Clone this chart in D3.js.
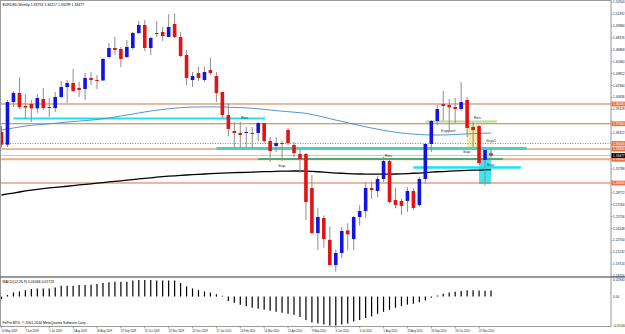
<!DOCTYPE html>
<html>
<head>
<meta charset="utf-8">
<script src="https://cdn.jsdelivr.net/npm/d3@7"></script>
<style>
body { margin: 0; background: #fff; }
text { font-family: "Liberation Sans", Arial, sans-serif; }
</style>
</head>
<body>
<script>
// weekly EURUSD bars, week of 10 May 2009 = bar 0
const opens = [1.3646,1.3485,1.4025,1.4140,1.3975,1.4000,1.3945,1.4063,1.3962,1.3949,
1.4089,1.4215,1.4266,1.4203,1.4190,1.4329,1.4304,1.4298,1.4595,1.4709,
1.4696,1.4595,1.4709,1.4899,1.5000,1.4709,1.4899,1.4912,1.4848,1.5013,
1.4848,1.4620,1.4304,1.4392,1.4304,1.4430,1.4354,1.4152,1.3861,1.3658,
1.3633,1.3633,1.3633,1.3633,1.3759,1.3532,1.3468,1.3506,1.3671,1.3481,
1.3367,1.3367,1.2937,1.2367,1.2557,1.2280,1.1962,1.2114,1.2400,1.2290,
1.2569,1.2645,1.2937,1.2899,1.3051,1.3278,1.2785,1.2772,1.2773,1.2899,
1.2720,1.3051,1.3494,1.3785,1.4000,1.3987,1.3962,1.3937,1.4051,1.3709,
1.3721,1.3291,1.33753];
const highs = [1.3720,1.4051,1.4165,1.4338,1.4127,1.4051,1.4127,1.4203,1.4076,1.4152,
1.4291,1.4304,1.4443,1.4279,1.4392,1.4405,1.4367,1.4582,1.4772,1.4848,
1.4722,1.4810,1.4912,1.5051,1.5063,1.4848,1.5051,1.4975,1.5139,1.5145,
1.4912,1.4684,1.4405,1.4468,1.4468,1.4582,1.4405,1.4152,1.4013,1.3772,
1.3772,1.3709,1.3709,1.3772,1.3759,1.3582,1.3582,1.3532,1.3696,1.3519,
1.3418,1.3380,1.3101,1.2683,1.2590,1.2450,1.2160,1.2443,1.2490,1.2580,
1.2720,1.3013,1.3020,1.3090,1.3333,1.3290,1.2937,1.2800,1.2950,1.2930,
1.3076,1.3506,1.3797,1.3990,1.4165,1.4063,1.4076,1.4279,1.4089,1.3772,
1.3734,1.3418,1.34217];
const lows = [1.3450,1.3456,1.3960,1.3935,1.3810,1.3772,1.3886,1.3924,1.3835,1.3899,
1.4076,1.4013,1.4152,1.4089,1.4051,1.4241,1.4190,1.4291,1.4582,1.4620,
1.4468,1.4582,1.4684,1.4886,1.4671,1.4620,1.4848,1.4798,1.4848,1.4836,
1.4595,1.4241,1.4215,1.4291,1.4279,1.4367,1.4025,1.3823,1.3595,1.3456,
1.3443,1.3456,1.3443,1.3532,1.3506,1.3266,1.3392,1.3278,1.3481,1.3329,
1.3126,1.2531,1.2350,1.2152,1.2180,1.1960,1.1876,1.2050,1.2150,1.2150,
1.2460,1.2560,1.2800,1.2820,1.3010,1.2740,1.2680,1.2595,1.2633,1.2658,
1.2700,1.2990,1.3392,1.3734,1.3785,1.3671,1.3759,1.3911,1.3582,1.3456,
1.3228,1.2969,1.33299];
const closes = [1.3485,1.4025,1.4140,1.3962,1.3955,1.3945,1.4076,1.3949,1.3949,1.4089,
1.4215,1.4266,1.4165,1.4177,1.4329,1.4304,1.4298,1.4570,1.4709,1.4684,
1.4570,1.4722,1.4899,1.5000,1.4709,1.4836,1.4893,1.4861,1.4975,1.4848,
1.4608,1.4329,1.4354,1.4329,1.4405,1.4392,1.4139,1.3861,1.3684,1.3633,
1.3608,1.3646,1.3625,1.3759,1.3532,1.3405,1.3506,1.3500,1.3506,1.3380,
1.3304,1.2759,1.2367,1.2569,1.2291,1.1962,1.2114,1.2392,1.2350,1.2569,
1.2645,1.2937,1.2910,1.3051,1.3278,1.2759,1.2721,1.2710,1.2899,1.2683,
1.3051,1.3494,1.3785,1.3937,1.3975,1.3958,1.3937,1.4025,1.3696,1.3671,
1.3253,1.3418,1.33477];

// moving averages
const maBlue = [1.3671,1.3684,1.3696,1.3709,1.3721,1.3730,1.3737,1.3743,1.3749,1.3757,
1.3765,1.3771,1.3777,1.3784,1.3790,1.3796,1.3804,1.3813,1.3823,1.3835,
1.3848,1.3861,1.3873,1.3886,1.3899,1.3911,1.3922,1.3930,1.3939,1.3947,
1.3953,1.3958,1.3961,1.3962,1.3963,1.3963,1.3963,1.3962,1.3959,1.3957,
1.3954,1.3951,1.3946,1.3939,1.3932,1.3924,1.3916,1.3909,1.3903,1.3896,
1.3890,1.3881,1.3867,1.3851,1.3833,1.3815,1.3797,1.3780,1.3762,1.3744,
1.3728,1.3711,1.3696,1.3681,1.3667,1.3654,1.3643,1.3633,1.3625,1.3619,
1.3614,1.3610,1.3608,1.3608,1.3608,1.3610,1.3614,1.3618,1.3621,1.3625,
1.3628,1.3630,1.3633];
const maBlack = [1.2848,1.2861,1.2873,1.2886,1.2899,1.2911,1.2920,1.2929,1.2937,1.2944,
1.2952,1.2959,1.2967,1.2975,1.2982,1.2990,1.2997,1.3005,1.3013,1.3020,
1.3028,1.3035,1.3043,1.3051,1.3058,1.3066,1.3073,1.3080,1.3086,1.3091,
1.3096,1.3101,1.3106,1.3110,1.3114,1.3118,1.3121,1.3125,1.3128,1.3130,
1.3133,1.3135,1.3138,1.3140,1.3143,1.3145,1.3148,1.3149,1.3151,1.3152,
1.3152,1.3151,1.3147,1.3142,1.3137,1.3132,1.3126,1.3123,1.3119,1.3116,
1.3114,1.3112,1.3111,1.3111,1.3111,1.3112,1.3114,1.3116,1.3119,1.3123,
1.3126,1.3132,1.3137,1.3142,1.3145,1.3149,1.3153,1.3157,1.3159,1.3162,
1.3164,1.3167,1.3169];

// MACD(12,26,9) main values
const macd = [-0.0045,0.0027,0.0072,0.0090,0.0114,0.0132,0.0144,0.0144,0.0144,0.0162,
0.0193,0.0193,0.0193,0.0204,0.0204,0.0211,0.0222,0.0240,0.0253,0.0265,
0.0265,0.0265,0.0283,0.0294,0.0294,0.0294,0.0283,0.0283,0.0283,0.0283,
0.0240,0.0181,0.0144,0.0114,0.0090,0.0072,0.0042,0.0013,-0.0081,-0.0108,
-0.0144,-0.0171,-0.0199,-0.0217,-0.0235,-0.0253,-0.0271,-0.0289,-0.0307,-0.0325,
-0.0361,-0.0415,-0.0460,-0.0478,-0.0496,-0.0514,-0.0514,-0.0496,-0.0478,-0.0442,
-0.0415,-0.0379,-0.0352,-0.0307,-0.0271,-0.0235,-0.0199,-0.0171,-0.0144,-0.0126,
-0.0099,-0.0072,-0.0020,0.0020,0.0050,0.0070,0.0085,0.0100,0.0110,0.0112,
0.0108,0.0105,0.0107];

// date labels, one every 4 bars
const dateLabels = ["10 May 2009","7 Jun 2009","5 Jul 2009","2 Aug 2009","30 Aug 2009","27 Sep 2009",
"25 Oct 2009","22 Nov 2009","20 Dec 2009","17 Jan 2010","14 Feb 2010","14 Mar 2010","11 Apr 2010",
"9 May 2010","6 Jun 2010","4 Jul 2010","1 Aug 2010","29 Aug 2010","26 Sep 2010","24 Oct 2010","21 Nov 2010"];

const priceTicks = [1.52900,1.51392,1.49884,1.48376,1.46868,1.45360,1.43852,1.42344,1.40836,1.39328,
1.37820,1.36312,1.34804,1.33296,1.31788,1.30280,1.28772,1.27264,1.25756,1.24248,1.22740,1.21232,1.19724,1.18216];
const macdTicks = [0.02940, 0, -0.05140];

// horizontal lines and the current bid
const levels = [1.4000, 1.3750, 1.3500, 1.3430, 1.3300, 1.3000];
const bid = 1.33477;

// drawn support / resistance objects
const segments = [
    { from: 2, to: 44, price: 1.3816 },
    { from: 36, to: 88, price: 1.3437 },
    { from: 43, to: 84, price: 1.3304 },
    { from: 69, to: 87, price: 1.3196 },
    { from: 71, to: 83, price: 1.3778 }
];
const boxes = [
    { from: 78, to: 79.7, top: 1.3734, bottom: 1.3443 },
    { from: 80.7, to: 82.2, top: 1.3456, bottom: 1.3291 },
    { from: 80, to: 82, top: 1.3291, bottom: 1.2987 }
];
const notes = [
    { text: "Res", bar: 40.1, price: 1.3810 },
    { text: "Sup", bar: 46.3, price: 1.3206 },
    { text: "Res", bar: 64.2, price: 1.3333 },
    { text: "Support", bar: 73.6, price: 1.3642 },
    { text: "Res", bar: 79.1, price: 1.3806 },
    { text: "Sup", bar: 77.3, price: 1.3383 },
    { text: "Sup1", bar: 81.2, price: 1.3515 },
    { text: "Sup", bar: 81.3, price: 1.3220 }
];

const W = 625, H = 334;
const plotRight = 611;
const mainBottom = 276;

const svg = d3.select("body").append("svg")
    .attr("width", W)
    .attr("height", H);

const x = d3.scaleLinear().domain([0, 82]).range([1.5, 491]);
const y = d3.scaleLinear().domain([1.18225, 1.53166]).range([mainBottom, 0]);
const ym = d3.scaleLinear().domain([-0.0514, 0.0294]).range([325.5, 280]);

const bars = d3.range(opens.length);

const main = svg.append("g");

// boxes (behind)
const boxColors = ["#f4eba6", "#aef0f2", "#3fe6f0"];
main.selectAll("rect.box")
    .data(boxes)
    .enter()
    .append("rect")
    .attr("x", d => x(d.from))
    .attr("width", d => x(d.to) - x(d.from))
    .attr("y", d => y(d.top))
    .attr("height", d => y(d.bottom) - y(d.top))
    .attr("fill", (d, i) => boxColors[i]);

// horizontal levels
main.selectAll("line.level")
    .data(levels)
    .enter()
    .append("line")
    .attr("x1", 0).attr("x2", plotRight)
    .attr("y1", d => y(d)).attr("y2", d => y(d))
    .attr("stroke", d => d === 1.33 ? "#f3aa80" : "#c9764b")
    .attr("stroke-width", d => d === 1.33 ? 2 : 1)
    .attr("stroke-dasharray", d => d === 1.35 ? "1,1.5" : null);

main.append("line")
    .attr("x1", 0).attr("x2", plotRight)
    .attr("y1", y(bid)).attr("y2", y(bid))
    .attr("stroke", "#c8c8c8")
    .attr("stroke-width", 1);

// support/resistance segments
const segColors = ["#22dff0", "#4ccfc0", "#4fa877", "#22dff0", "#b8e08e"];
const segWidths = [2, 3, 2, 2.5, 2];
main.selectAll("line.seg")
    .data(segments)
    .enter()
    .append("line")
    .attr("x1", d => x(d.from)).attr("x2", d => x(d.to))
    .attr("y1", d => y(d.price)).attr("y2", d => y(d.price))
    .attr("stroke", (d, i) => segColors[i])
    .attr("stroke-width", (d, i) => segWidths[i]);

// small end tick on the first resistance line
main.append("line")
    .attr("x1", x(segments[0].to)).attr("x2", x(segments[0].to))
    .attr("y1", y(segments[0].price) - 2).attr("y2", y(segments[0].price) + 2)
    .attr("stroke", segColors[0]);

// moving averages
const line = d3.line().x((d, i) => x(i)).y(d => y(d));
main.append("path")
    .attr("d", line(maBlue))
    .attr("fill", "none")
    .attr("stroke", "#4f97d0")
    .attr("stroke-width", 1);
main.append("path")
    .attr("d", line(maBlack))
    .attr("fill", "none")
    .attr("stroke", "#000")
    .attr("stroke-width", 1.3);

// candles
main.selectAll("line.wick")
    .data(bars)
    .enter()
    .append("line")
    .attr("x1", i => x(i)).attr("x2", i => x(i))
    .attr("y1", i => y(highs[i])).attr("y2", i => y(lows[i]))
    .attr("stroke", "#8e8e8e")
    .attr("stroke-width", 1);

main.selectAll("rect.body")
    .data(bars)
    .enter()
    .append("rect")
    .attr("x", i => x(i) - 1.8)
    .attr("width", 3.6)
    .attr("y", i => y(Math.max(opens[i], closes[i])))
    .attr("height", i => Math.max(1, Math.abs(y(opens[i]) - y(closes[i]))))
    .attr("fill", i => closes[i] >= opens[i] ? "#1414e0" : "#e01414");

// annotation texts
main.selectAll("text.note")
    .data(notes)
    .enter()
    .append("text")
    .attr("x", d => x(d.bar))
    .attr("y", d => y(d.price))
    .attr("font-size", 4.2)
    .attr("fill", "#333")
    .text(d => d.text);

// MACD histogram
svg.selectAll("line.macd")
    .data(bars)
    .enter()
    .append("line")
    .attr("x1", i => x(i)).attr("x2", i => x(i))
    .attr("y1", ym(0)).attr("y2", i => ym(macd[i]))
    .attr("stroke", "#000")
    .attr("stroke-width", 1.2);

// frame
svg.append("rect")
    .attr("x", 0.5).attr("y", 0.5)
    .attr("width", plotRight - 0.5).attr("height", 326)
    .attr("fill", "none")
    .attr("stroke", "#9a9a9a");
svg.append("line")
    .attr("x1", 0).attr("x2", W)
    .attr("y1", 277).attr("y2", 277)
    .attr("stroke", "#777")
    .attr("stroke-width", 1.5);

// right price axis
const axisFont = 3.2;
const taken = levels.concat([bid]).map(d => y(d));
priceTicks.forEach(function(p) {
    const py = y(p);
    svg.append("line")
        .attr("x1", plotRight).attr("x2", plotRight + 1.5)
        .attr("y1", py).attr("y2", py)
        .attr("stroke", "#666").attr("stroke-width", 0.6);
    if (taken.some(t => Math.abs(t - py) < 4)) return;
    svg.append("text")
        .attr("x", plotRight + 2)
        .attr("y", py + 1.1)
        .attr("font-size", axisFont)
        .attr("fill", "#222")
        .text(p.toFixed(5));
});

// labels of the horizontal lines
levels.concat([bid]).forEach(function(p) {
    const py = y(p);
    const isBid = p === bid;
    svg.append("rect")
        .attr("x", plotRight + 0.5).attr("y", py - 2.4)
        .attr("width", W - plotRight).attr("height", 4.8)
        .attr("fill", isBid ? "#000" : "#ec7140");
    svg.append("text")
        .attr("x", plotRight + 2)
        .attr("y", py + 1.1)
        .attr("font-size", axisFont)
        .attr("fill", "#fff")
        .text(p.toFixed(5));
});

// MACD axis
macdTicks.forEach(function(v) {
    svg.append("text")
        .attr("x", plotRight + 2)
        .attr("y", ym(v) + 1.1)
        .attr("font-size", axisFont)
        .attr("fill", "#222")
        .text(v === 0 ? "0.00" : v.toFixed(5));
});

// date axis
dateLabels.forEach(function(label, k) {
    const bx = x(k * 4);
    svg.append("line")
        .attr("x1", bx).attr("x2", bx)
        .attr("y1", 326.5).attr("y2", 328.5)
        .attr("stroke", "#666").attr("stroke-width", 0.6);
    svg.append("text")
        .attr("x", bx)
        .attr("y", 331.8)
        .attr("font-size", 2.7)
        .attr("fill", "#222")
        .text(label);
});

// captions
svg.append("text")
    .attr("x", 2.5).attr("y", 6.3)
    .attr("font-size", 3.5)
    .attr("fill", "#000")
    .text("EURUSD,Weekly  1.33753 1.34217 1.33299 1.33477");
svg.append("text")
    .attr("x", 2.5).attr("y", 283)
    .attr("font-size", 3.5)
    .attr("fill", "#000")
    .text("MACD(12,26,9) 0.01068 0.01723");
svg.append("text")
    .attr("x", 2.5).attr("y", 324)
    .attr("font-size", 3.5)
    .attr("fill", "#000")
    .text("FxPro MT4, \u00a9 2001-2010 MetaQuotes Software Corp.");
</script>
</body>
</html>
